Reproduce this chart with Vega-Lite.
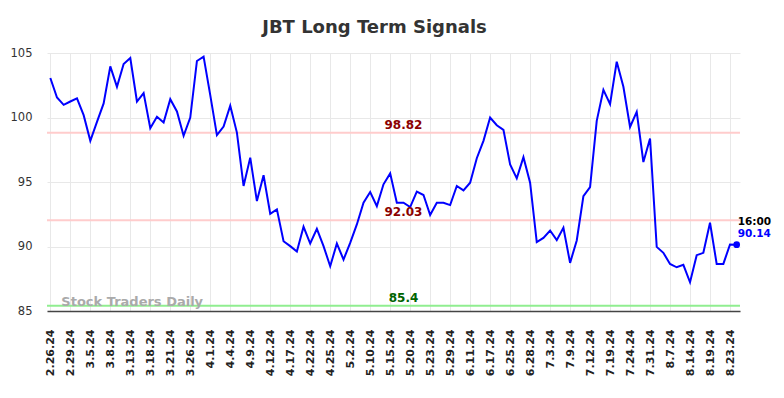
{
  "$schema": "https://vega.github.io/schema/vega-lite/v6.json",
  "width": 693,
  "height": 258,
  "autosize": {"type": "none"},
  "padding": {"left": 47, "top": 53, "right": 44, "bottom": 87},
  "background": "white",
  "title": {"text": "JBT Long Term Signals", "fontSize": 18, "font": "DejaVu Sans", "fontWeight": "bold", "color": "#333333", "anchor": "middle", "frame": "group", "dx": -19, "offset": 10},
  "config": {"view": {"stroke": null}, "font": "DejaVu Sans"},
  "datasets": {
    "main": [
      {"date": "2.26.24", "value": 103.06}, {"date": "2.27.24", "value": 101.55}, {"date": "2.28.24", "value": 100.98},
      {"date": "2.29.24", "value": 101.24}, {"date": "3.1.24", "value": 101.48}, {"date": "3.4.24", "value": 100.18},
      {"date": "3.5.24", "value": 98.19}, {"date": "3.6.24", "value": 99.66}, {"date": "3.7.24", "value": 101.09},
      {"date": "3.8.24", "value": 103.96}, {"date": "3.11.24", "value": 102.38}, {"date": "3.12.24", "value": 104.15},
      {"date": "3.13.24", "value": 104.61}, {"date": "3.14.24", "value": 101.24}, {"date": "3.15.24", "value": 101.89},
      {"date": "3.18.24", "value": 99.17}, {"date": "3.19.24", "value": 100.05}, {"date": "3.20.24", "value": 99.61},
      {"date": "3.21.24", "value": 101.42}, {"date": "3.22.24", "value": 100.47}, {"date": "3.25.24", "value": 98.58},
      {"date": "3.26.24", "value": 100.0}, {"date": "3.27.24", "value": 104.38}, {"date": "3.28.24", "value": 104.72},
      {"date": "4.1.24", "value": 101.74}, {"date": "4.2.24", "value": 98.63}, {"date": "4.3.24", "value": 99.3},
      {"date": "4.4.24", "value": 100.91}, {"date": "4.5.24", "value": 98.83}, {"date": "4.8.24", "value": 94.69},
      {"date": "4.9.24", "value": 96.89}, {"date": "4.10.24", "value": 93.52}, {"date": "4.11.24", "value": 95.52},
      {"date": "4.12.24", "value": 92.54}, {"date": "4.15.24", "value": 92.88}, {"date": "4.16.24", "value": 90.41},
      {"date": "4.17.24", "value": 90.03}, {"date": "4.18.24", "value": 89.61}, {"date": "4.19.24", "value": 91.53},
      {"date": "4.22.24", "value": 90.23}, {"date": "4.23.24", "value": 91.37}, {"date": "4.24.24", "value": 90.03},
      {"date": "4.25.24", "value": 88.47}, {"date": "4.26.24", "value": 90.23}, {"date": "4.30.24", "value": 88.99},
      {"date": "5.2.24", "value": 90.28}, {"date": "5.6.24", "value": 91.71}, {"date": "5.8.24", "value": 93.39},
      {"date": "5.10.24", "value": 94.22}, {"date": "5.13.24", "value": 93.13}, {"date": "5.14.24", "value": 94.82},
      {"date": "5.15.24", "value": 95.67}, {"date": "5.16.24", "value": 93.39}, {"date": "5.17.24", "value": 93.39},
      {"date": "5.20.24", "value": 93.06}, {"date": "5.21.24", "value": 94.25}, {"date": "5.22.24", "value": 93.99},
      {"date": "5.23.24", "value": 92.44}, {"date": "5.24.24", "value": 93.39}, {"date": "5.28.24", "value": 93.39},
      {"date": "5.29.24", "value": 93.21}, {"date": "6.3.24", "value": 94.69}, {"date": "6.6.24", "value": 94.35},
      {"date": "6.11.24", "value": 94.95}, {"date": "6.12.24", "value": 96.84}, {"date": "6.13.24", "value": 98.19},
      {"date": "6.17.24", "value": 100.0}, {"date": "6.18.24", "value": 99.4}, {"date": "6.21.24", "value": 99.04},
      {"date": "6.25.24", "value": 96.37}, {"date": "6.26.24", "value": 95.28}, {"date": "6.27.24", "value": 96.92},
      {"date": "6.28.24", "value": 94.95}, {"date": "7.1.24", "value": 90.34}, {"date": "7.2.24", "value": 90.67},
      {"date": "7.3.24", "value": 91.24}, {"date": "7.5.24", "value": 90.49}, {"date": "7.8.24", "value": 91.45},
      {"date": "7.9.24", "value": 88.73}, {"date": "7.10.24", "value": 90.47}, {"date": "7.11.24", "value": 93.91},
      {"date": "7.12.24", "value": 94.61}, {"date": "7.15.24", "value": 99.74}, {"date": "7.17.24", "value": 102.15},
      {"date": "7.19.24", "value": 101.04}, {"date": "7.22.24", "value": 104.33}, {"date": "7.23.24", "value": 102.38},
      {"date": "7.24.24", "value": 99.27}, {"date": "7.26.24", "value": 100.44}, {"date": "7.29.24", "value": 96.55},
      {"date": "7.31.24", "value": 98.37}, {"date": "8.2.24", "value": 89.97}, {"date": "8.5.24", "value": 89.51},
      {"date": "8.7.24", "value": 88.65}, {"date": "8.9.24", "value": 88.39}, {"date": "8.12.24", "value": 88.58},
      {"date": "8.14.24", "value": 87.23}, {"date": "8.15.24", "value": 89.33}, {"date": "8.16.24", "value": 89.51},
      {"date": "8.19.24", "value": 91.84}, {"date": "8.20.24", "value": 88.65}, {"date": "8.22.24", "value": 88.65},
      {"date": "8.23.24", "value": 90.16}, {"date": "8.26.24", "value": 90.14}
    ],
    "levels": [
      {"level": 98.82, "kind": "resistance"},
      {"level": 92.03, "kind": "resistance"},
      {"level": 85.4, "kind": "support"}
    ],
    "last": [{"date": "8.26.24", "value": 90.14, "time": "16:00"}],
    "mark": [{"label": "Stock Traders Daily"}]
  },
  "layer": [
    {
      "data": {"name": "main"},
      "mark": {"type": "line", "color": "#0000ff", "strokeWidth": 2, "opacity": 0},
      "encoding": {
        "x": {
          "field": "date", "type": "ordinal", "sort": null,
          "scale": {"type": "point", "padding": 0.5, "domain": ["2.26.24","2.27.24","2.28.24","2.29.24","3.1.24","3.4.24","3.5.24","3.6.24","3.7.24","3.8.24","3.11.24","3.12.24","3.13.24","3.14.24","3.15.24","3.18.24","3.19.24","3.20.24","3.21.24","3.22.24","3.25.24","3.26.24","3.27.24","3.28.24","4.1.24","4.2.24","4.3.24","4.4.24","4.5.24","4.8.24","4.9.24","4.10.24","4.11.24","4.12.24","4.15.24","4.16.24","4.17.24","4.18.24","4.19.24","4.22.24","4.23.24","4.24.24","4.25.24","4.26.24","4.30.24","5.2.24","5.6.24","5.8.24","5.10.24","5.13.24","5.14.24","5.15.24","5.16.24","5.17.24","5.20.24","5.21.24","5.22.24","5.23.24","5.24.24","5.28.24","5.29.24","6.3.24","6.6.24","6.11.24","6.12.24","6.13.24","6.17.24","6.18.24","6.21.24","6.25.24","6.26.24","6.27.24","6.28.24","7.1.24","7.2.24","7.3.24","7.5.24","7.8.24","7.9.24","7.10.24","7.11.24","7.12.24","7.15.24","7.17.24","7.19.24","7.22.24","7.23.24","7.24.24","7.26.24","7.29.24","7.31.24","8.2.24","8.5.24","8.7.24","8.9.24","8.12.24","8.14.24","8.15.24","8.16.24","8.19.24","8.20.24","8.22.24","8.23.24","8.26.24"]},
          "axis": {
            "values": ["2.26.24","2.29.24","3.5.24","3.8.24","3.13.24","3.18.24","3.21.24","3.26.24","4.1.24","4.4.24","4.9.24","4.12.24","4.17.24","4.22.24","4.25.24","5.2.24","5.10.24","5.15.24","5.20.24","5.23.24","5.29.24","6.11.24","6.17.24","6.25.24","6.28.24","7.3.24","7.9.24","7.12.24","7.19.24","7.24.24","7.31.24","8.7.24","8.14.24","8.19.24","8.23.24"],
            "title": null, "grid": true, "gridColor": "#e8e8e8", "gridWidth": 1,
            "labelAngle": -90, "labelFont": "DejaVu Sans", "labelFontWeight": "bold", "labelFontSize": 11,
            "labelColor": "#222222", "labelPadding": 18, "ticks": false, "tickSize": 0,
            "domainColor": "#444444", "domainWidth": 1.5
          }
        },
        "y": {
          "field": "value", "type": "quantitative",
          "scale": {"domain": [85, 105], "nice": false, "zero": false},
          "axis": {
            "values": [85, 90, 95, 100, 105], "title": null, "domain": false, "ticks": false, "tickSize": 0,
            "labelPadding": 15, "labelFontSize": 11.5, "labelFont": "DejaVu Sans", "labelColor": "#333333",
            "gridColor": "#e8e8e8", "gridWidth": 1
          }
        }
      }
    },
    {
      "data": {"name": "levels"},
      "mark": {"type": "rule", "strokeWidth": 2},
      "encoding": {
        "y": {"field": "level", "type": "quantitative"},
        "color": {"field": "kind", "type": "nominal", "scale": {"domain": ["resistance", "support"], "range": ["#ffcccc", "#90ee90"]}, "legend": null}
      }
    },
    {
      "data": {"name": "main"},
      "mark": {"type": "line", "color": "#0000ff", "strokeWidth": 2},
      "encoding": {
        "x": {"field": "date", "type": "ordinal", "sort": null},
        "y": {"field": "value", "type": "quantitative"}
      }
    },
    {
      "data": {"name": "mark"},
      "mark": {"type": "text", "align": "left", "baseline": "middle", "dx": 11, "fontSize": 13, "fontWeight": "bold", "font": "DejaVu Sans", "color": "#aaaaaa"},
      "encoding": {
        "x": {"datum": "2.26.24", "type": "ordinal"},
        "y": {"datum": 85.68, "type": "quantitative"},
        "text": {"field": "label"}
      }
    },
    {
      "data": {"name": "levels"},
      "mark": {"type": "text", "align": "center", "baseline": "alphabetic", "dy": -4, "fontSize": 12, "fontWeight": "bold", "font": "DejaVu Sans"},
      "encoding": {
        "x": {"datum": "5.17.24", "type": "ordinal"},
        "y": {"field": "level", "type": "quantitative"},
        "text": {"field": "level", "type": "quantitative"},
        "color": {"field": "kind", "type": "nominal", "scale": {"domain": ["resistance", "support"], "range": ["#8b0000", "#006400"]}, "legend": null}
      }
    },
    {
      "data": {"name": "last"},
      "mark": {"type": "point", "filled": true, "size": 45, "color": "#0000ff", "opacity": 1},
      "encoding": {
        "x": {"field": "date", "type": "ordinal", "sort": null},
        "y": {"field": "value", "type": "quantitative"}
      }
    },
    {
      "data": {"name": "last"},
      "mark": {"type": "text", "align": "left", "baseline": "alphabetic", "dx": 1, "dy": -7.5, "fontSize": 10.5, "fontWeight": "bold", "font": "DejaVu Sans", "color": "#0000ff"},
      "encoding": {
        "x": {"field": "date", "type": "ordinal", "sort": null},
        "y": {"field": "value", "type": "quantitative"},
        "text": {"field": "value", "type": "quantitative", "format": ".2f"}
      }
    },
    {
      "data": {"name": "last"},
      "mark": {"type": "text", "align": "left", "baseline": "alphabetic", "dx": 1, "dy": -20, "fontSize": 10.5, "fontWeight": "bold", "font": "DejaVu Sans", "color": "#000000"},
      "encoding": {
        "x": {"field": "date", "type": "ordinal", "sort": null},
        "y": {"field": "value", "type": "quantitative"},
        "text": {"field": "time"}
      }
    }
  ],
  "resolve": {"scale": {"color": "independent"}}
}
